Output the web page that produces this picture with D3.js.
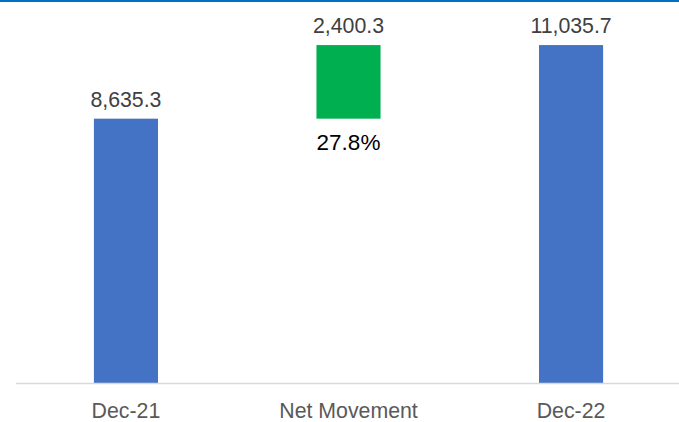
<!DOCTYPE html>
<html>
<head>
<meta charset="utf-8">
<script src="https://cdn.jsdelivr.net/npm/d3@7"></script>
<style>
  body { margin: 0; background: #fff; }
  text { font-family: Arial, "Liberation Sans", sans-serif; }
</style>
</head>
<body>
<script>
// Waterfall: opening balance, movement, closing balance
var categories = ["Dec-21", "Net Movement", "Dec-22"];
var values = [8635.3, 2400.3, 11035.7];
var kinds = ["total", "delta", "total"];
var valueLabels = ["8,635.3", "2,400.3", "11,035.7"];
var pctLabel = "27.8%";

var svgWidth = 679;
var svgHeight = 422;
var baseY = 383.5;

var svg = d3.select("body")
  .append("svg")
  .attr("width", svgWidth)
  .attr("height", svgHeight);

// thin blue rule at the very top
svg.append("line")
  .attr("x1", 0).attr("x2", svgWidth)
  .attr("y1", 1).attr("y2", 1)
  .attr("stroke", "#0070C0")
  .attr("stroke-width", 2);

var x = d3.scaleBand()
  .domain(categories)
  .range([16, 681])
  .paddingInner(0.712)
  .paddingOuter(0.35);

var y = d3.scaleLinear()
  .domain([0, 12000])
  .range([baseY, 15.5]);

// work out bar start/end for the waterfall
var running = 0;
var bars = categories.map(function(c, i) {
  var lo, hi;
  if (kinds[i] == "total") {
    lo = 0; hi = values[i]; running = values[i];
  } else {
    lo = running; hi = running + values[i]; running = hi;
  }
  return { cat: c, lo: lo, hi: hi, kind: kinds[i], label: valueLabels[i] };
});

svg.selectAll("rect.bar")
  .data(bars)
  .enter()
  .append("rect")
  .attr("class", "bar")
  .attr("x", d => x(d.cat))
  .attr("width", x.bandwidth())
  .attr("y", d => y(d.hi))
  .attr("height", d => y(d.lo) - y(d.hi))
  .attr("fill", d => d.kind == "total" ? "#4472C4" : "#00B050");

// value labels above bars
svg.selectAll("text.val")
  .data(bars)
  .enter()
  .append("text")
  .attr("class", "val")
  .attr("x", d => x(d.cat) + x.bandwidth() / 2)
  .attr("y", d => y(d.hi) - 12)
  .attr("text-anchor", "middle")
  .style("font-size", "21.3px")
  .style("fill", "#404040")
  .text(d => d.label);

// percentage under the movement bar
var mv = bars[1];
svg.append("text")
  .attr("x", x(mv.cat) + x.bandwidth() / 2)
  .attr("y", y(mv.lo) + 31)
  .attr("text-anchor", "middle")
  .style("font-size", "22.5px")
  .style("fill", "#000")
  .text(pctLabel);

// x axis
var xAxis = d3.axisBottom(x).tickSize(0).tickPadding(19);
var gx = svg.append("g")
  .attr("transform", `translate(0, ${baseY})`)
  .call(xAxis);
gx.select(".domain").remove();
gx.selectAll("text")
  .style("font-size", "21.3px")
  .style("font-family", "Arial, 'Liberation Sans', sans-serif")
  .attr("fill", "#595959");

svg.append("line")
  .attr("x1", 16).attr("x2", svgWidth)
  .attr("y1", baseY).attr("y2", baseY)
  .attr("stroke", "#D9D9D9")
  .attr("stroke-width", 1.5);
</script>
</body>
</html>
